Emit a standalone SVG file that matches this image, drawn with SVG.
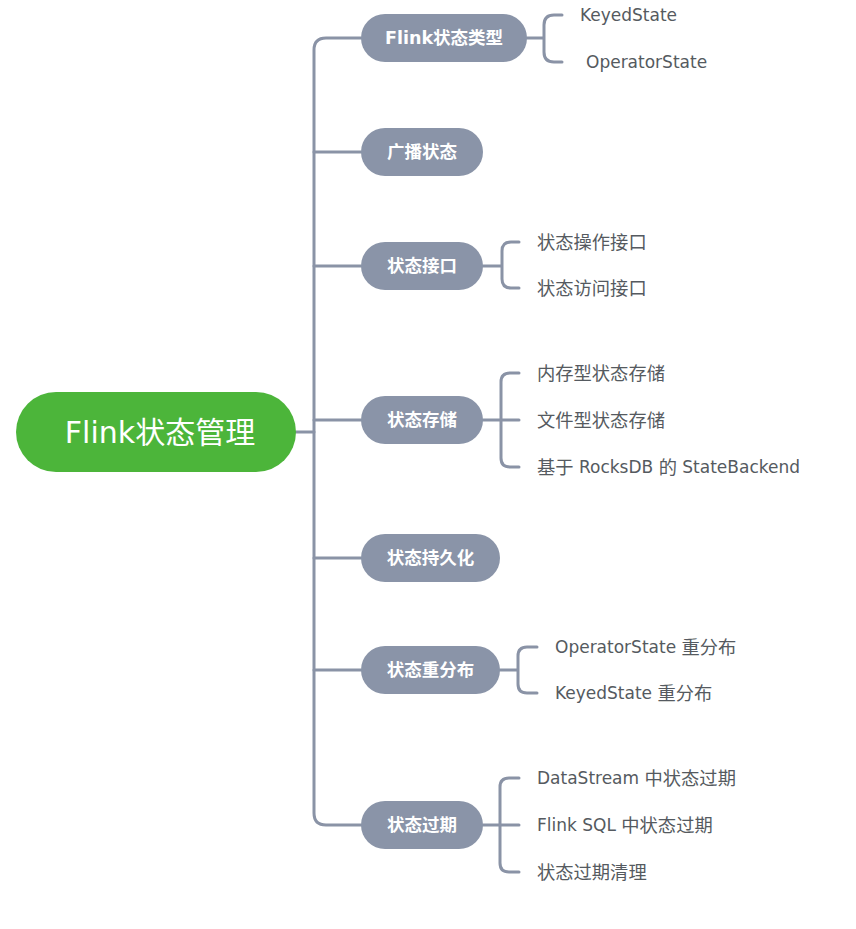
<svg xmlns="http://www.w3.org/2000/svg" width="856" height="929" viewBox="0 0 856 929">
<style>
.c{fill:none;stroke:#8a93a6;stroke-width:3;stroke-linecap:round;stroke-linejoin:round}
.n{fill:#8a94a8}
.nt{font-family:"DejaVu Sans","Noto Sans CJK SC",sans-serif;font-size:17.5px;font-weight:bold;fill:#fff;text-anchor:middle;dominant-baseline:central}
.lt{font-family:"DejaVu Sans","Noto Sans CJK SC",sans-serif;font-size:17px;fill:#555a60;dominant-baseline:central}
.k{font-size:18.3px}
</style>
<rect width="856" height="929" fill="#ffffff"/>
<g id="connectors">
<path class="c" d="M296 432H314"/>
<path class="c" d="M361 38H326Q314 38 314 50V813Q314 825 326 825H361"/>
<path class="c" d="M314 152H361M314 266H361M314 420H361M314 558H361M314 670H361"/>
<path class="c" d="M527 38H544M562 15H554Q544 15 544 25V52Q544 62 554 62H562"/>
<path class="c" d="M483 266H502M519 242H511Q502 242 502 251V279Q502 288 511 288H519"/>
<path class="c" d="M483 420H519M519 373H510Q501 373 501 382V458Q501 467 510 467H519"/>
<path class="c" d="M500 670H518M537 647H527Q518 647 518 656V684Q518 693 527 693H537"/>
<path class="c" d="M483 825H519M519 778H509Q500 778 500 787V863Q500 872 509 872H519"/>
</g>
<g id="root">
<rect x="16" y="392" width="280" height="80" rx="40" fill="#4cb53a"/>
<text x="160" y="432" font-family="'DejaVu Sans','Noto Sans CJK SC',sans-serif" font-size="30" fill="#fff" text-anchor="middle" dominant-baseline="central">Flink状态管理</text>
</g>
<g id="n1"><rect class="n" x="361" y="14" width="166" height="48" rx="24"/><text class="nt" x="444" y="38">Flink状态类型</text></g>
<g id="n2"><rect class="n" x="361" y="128" width="122" height="48" rx="24"/><text class="nt" x="422" y="152">广播状态</text></g>
<g id="n3"><rect class="n" x="361" y="242" width="122" height="48" rx="24"/><text class="nt" x="422" y="266">状态接口</text></g>
<g id="n4"><rect class="n" x="361" y="396" width="122" height="48" rx="24"/><text class="nt" x="422" y="420">状态存储</text></g>
<g id="n5"><rect class="n" x="361" y="534" width="139" height="48" rx="24"/><text class="nt" x="430.5" y="558">状态持久化</text></g>
<g id="n6"><rect class="n" x="361" y="646" width="139" height="48" rx="24"/><text class="nt" x="430.5" y="670">状态重分布</text></g>
<g id="n7"><rect class="n" x="361" y="801" width="122" height="48" rx="24"/><text class="nt" x="422" y="825">状态过期</text></g>
<g id="leaves">
<text class="lt" x="580" y="15">KeyedState</text>
<text class="lt" x="586" y="62">OperatorState</text>
<text class="lt k" x="537" y="242">状态操作接口</text>
<text class="lt k" x="537" y="288">状态访问接口</text>
<text class="lt k" x="537" y="373">内存型状态存储</text>
<text class="lt k" x="537" y="420">文件型状态存储</text>
<text class="lt" x="537" y="467"><tspan class="k">基于</tspan> RocksDB <tspan class="k">的</tspan> StateBackend</text>
<text class="lt" x="555" y="647">OperatorState <tspan class="k">重分布</tspan></text>
<text class="lt" x="555" y="693">KeyedState <tspan class="k">重分布</tspan></text>
<text class="lt" x="537" y="778">DataStream <tspan class="k">中状态过期</tspan></text>
<text class="lt" x="537" y="825">Flink SQL <tspan class="k">中状态过期</tspan></text>
<text class="lt k" x="537" y="872">状态过期清理</text>
</g>
</svg>
